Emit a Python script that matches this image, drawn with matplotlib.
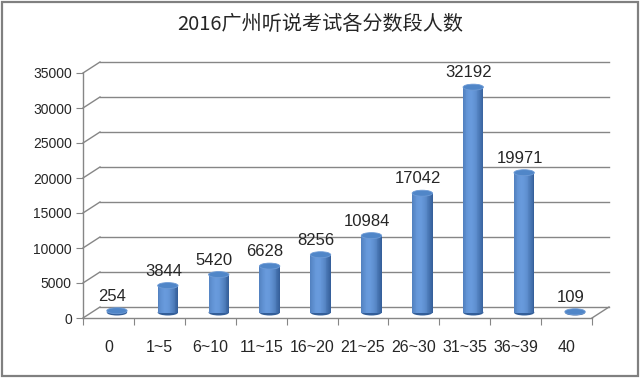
import matplotlib
matplotlib.use("Agg")
import matplotlib.pyplot as plt
import matplotlib.transforms as mtransforms
from matplotlib.patches import Ellipse, Rectangle
import numpy as np

# ---- data ----
categories = ["0", "1~5", "6~10", "11~15", "16~20", "21~25", "26~30", "31~35", "36~39", "40"]
counts = [254, 3844, 5420, 6628, 8256, 10984, 17042, 32192, 19971, 109]
y_ticks = [0, 5000, 10000, 15000, 20000, 25000, 30000, 35000]
title = "2016广州听说考试各分数段人数"

DPI = 100
fig = plt.figure(figsize=(6.4, 3.78), dpi=DPI)
fig.patch.set_facecolor("white")

# chart border
fig.add_artist(Rectangle((0.003, 0.004), 0.994, 0.992, transform=fig.transFigure,
                         fill=False, edgecolor="#808080", linewidth=1.6))

ax = fig.add_axes([83 / 640, 60 / 378, 509 / 640, 245 / 378])
ax.set_xlim(-0.5, len(categories) - 0.5)
ax.set_ylim(0, 35000)
ax.patch.set_alpha(0)

grid_c = "#868686"
txt_c = "#262626"
for s in ["top", "right"]:
    ax.spines[s].set_visible(False)
for s in ["left", "bottom"]:
    ax.spines[s].set_color(grid_c)
    ax.spines[s].set_linewidth(1.0)

def px_off(dx, dy):
    return ax.transData + mtransforms.ScaledTranslation(dx / DPI, dy / DPI, fig.dpi_scale_trans)

back = px_off(17, 11)
mid = px_off(8.5, 5.5)
inv = ax.transData.inverted()

x0, x1 = -0.5, len(categories) - 0.5
# back wall gridlines and side diagonals
for yv in y_ticks:
    ax.plot([x0, x1], [yv, yv], color=grid_c, lw=1.0, transform=back, clip_on=False, zorder=1)
    q1 = inv.transform(back.transform((x0, yv)))
    ax.plot([x0, q1[0]], [yv, q1[1]], color=grid_c, lw=1.0, clip_on=False, zorder=1)
# floor right edge
q = inv.transform(back.transform((x1, 0)))
ax.plot([x1, q[0]], [0, q[1]], color=grid_c, lw=1.0, clip_on=False, zorder=1)

# ticks
ax.set_yticks(y_ticks)
ax.set_yticklabels([str(v) for v in y_ticks], fontsize=10, family="Liberation Sans", color=txt_c)
ax.tick_params(axis="y", direction="out", length=5, color=grid_c, pad=3)
ax.set_xticks(np.arange(len(categories) + 1) - 0.5)
ax.set_xticklabels([])
ax.tick_params(axis="x", direction="out", length=5, color=grid_c)
for i, c in enumerate(categories):
    ax.text(i, 0, c, transform=px_off(0, -30), ha="center", va="center",
            fontsize=11.5, family="Liberation Sans", color=txt_c)

# cylinders
w = 0.4
eh = 6 * 35000 / 245  # ellipse height in data units
nstrip = 24
dark = np.array([0x30, 0x5a, 0x94]) / 255
light = np.array([0x68, 0x9a, 0xdc]) / 255
for i, v in enumerate(counts):
    ax.add_patch(Ellipse((i, 0), w, eh, transform=mid, facecolor="#335e98",
                         edgecolor="none", clip_on=False, zorder=3))
    for k in range(nstrip):
        t = (k + 0.5) / nstrip
        b = np.clip(np.cos((t - 0.38) * np.pi / 1.3), 0, 1) ** 1.1
        col = dark + (light - dark) * b
        ax.bar(i - w / 2 + k * w / nstrip, v, width=w / nstrip * 1.02, bottom=0,
               align="edge", color=col, linewidth=0, transform=mid, clip_on=False, zorder=3)
    ax.add_patch(Ellipse((i, v), w, eh, transform=mid, facecolor="#5086c8",
                         edgecolor="#6e9bd6", linewidth=0.6, clip_on=False, zorder=4))
    ax.text(i, v, str(v), transform=px_off(4, 20), ha="center", va="center",
            fontsize=12, family="Liberation Sans", color=txt_c, zorder=5)

fig.text(0.5, 1 - 25 / 378, title, ha="center", va="center", fontsize=14.5,
         family=["Noto Sans CJK SC", "DejaVu Sans"], color=txt_c)

fig.savefig("out.png", dpi=DPI)
